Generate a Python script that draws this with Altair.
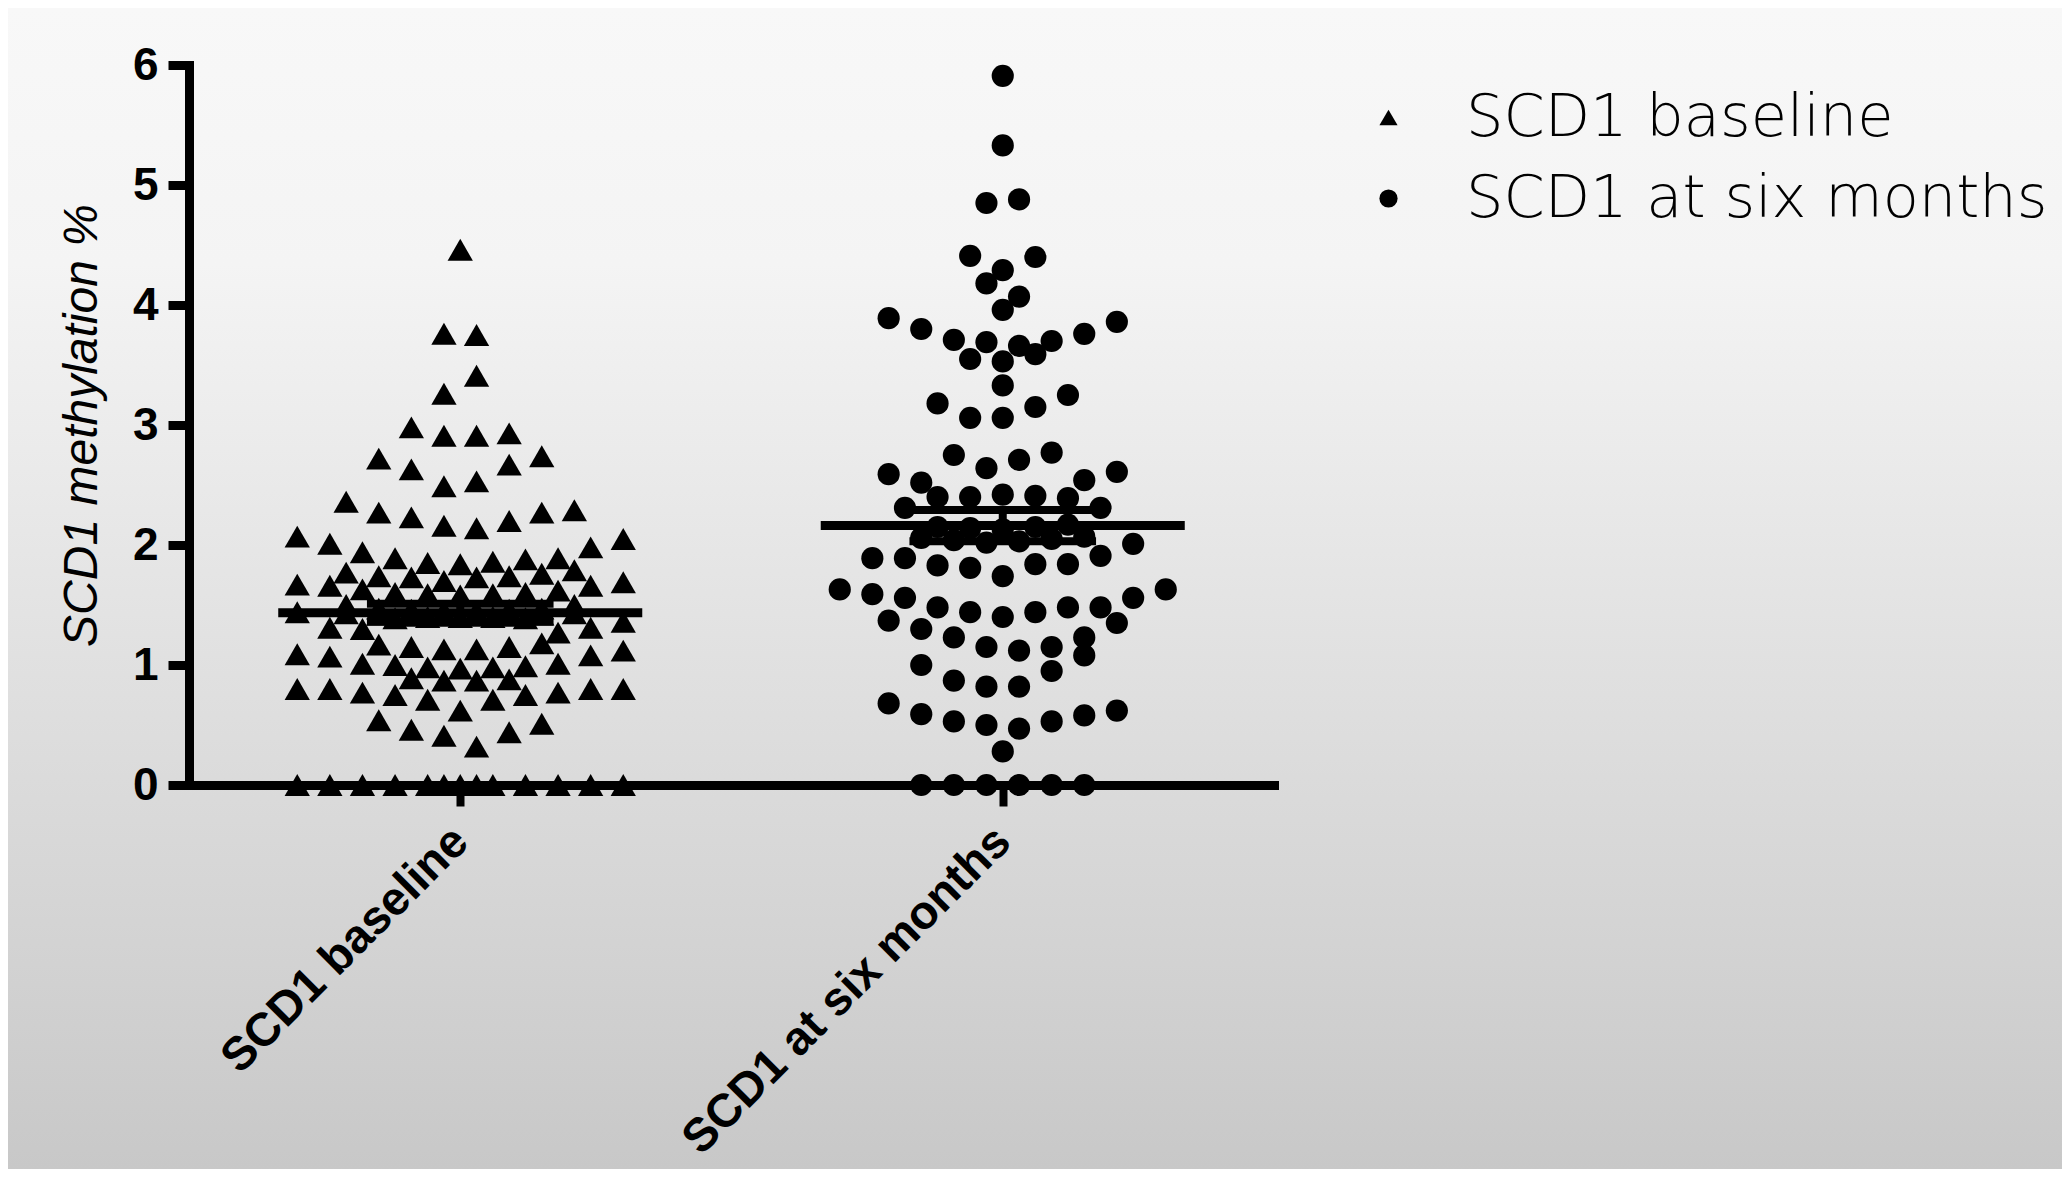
import altair as alt
import pandas as pd

# ---------------- data (one list per row of dots) -------------
groups = ["SCD1 baseline", "SCD1 at six months"]
shapes = ["triangle-up", "circle"]
y_ticks = [0, 1, 2, 3, 4, 5, 6]

baseline_rows = [
    [0, 0, 0, 0, 0, 0, 0, 0, 0, 0, 0, 0, 0],
    [0.54, 0.46, 0.41, 0.32, 0.44, 0.51],
    [0.80, 0.80, 0.77, 0.75, 0.71, 0.62, 0.71, 0.75, 0.77, 0.80, 0.80],
    [0.89, 0.87, 0.87, 0.88],
    [1.09, 1.07, 1.01, 1.00, 0.98, 0.97, 0.98, 0.99, 1.01, 1.08, 1.12],
    [1.17, 1.15, 1.13, 1.13, 1.15, 1.18],
    [1.44, 1.31, 1.30, 1.39, 1.40, 1.40, 1.40, 1.39, 1.27, 1.31, 1.36],
    [1.43, 1.42, 1.41, 1.41, 1.41, 1.41, 1.42, 1.43],
    [1.50, 1.47, 1.46, 1.45, 1.45, 1.46, 1.47, 1.50],
    [1.67, 1.66, 1.63, 1.60, 1.59, 1.58, 1.59, 1.60, 1.62, 1.66, 1.69],
    [1.77, 1.74, 1.73, 1.70, 1.73, 1.74, 1.76, 1.79],
    [2.07, 2.01, 1.94, 1.89, 1.85, 1.84, 1.86, 1.88, 1.89, 1.98, 2.05],
    [2.36, 2.27, 2.23, 2.16, 2.14, 2.20, 2.27, 2.29],
    [2.72, 2.63, 2.49, 2.53, 2.67, 2.74],
    [2.98, 2.91, 2.91, 2.93],
    [3.26, 3.41],
    [3.76, 3.75],
    [4.46],
]

six_month_rows = [
    [0, 0, 0, 0, 0, 0],
    [0.28],
    [0.68, 0.59, 0.53, 0.50, 0.47, 0.53, 0.58, 0.62],
    [1.00, 0.87, 0.82, 0.82, 0.95, 1.08],
    [1.37, 1.30, 1.23, 1.15, 1.12, 1.15, 1.23, 1.35],
    [1.63, 1.59, 1.56, 1.48, 1.44, 1.40, 1.44, 1.48, 1.48, 1.56, 1.63],
    [1.89, 1.89, 1.83, 1.81, 1.74, 1.84, 1.84, 1.91, 2.01],
    [2.06, 2.04, 2.02, 2.03, 2.05, 2.07],
    [2.15, 2.14, 2.13, 2.15, 2.17],
    [2.31, 2.40, 2.40, 2.42, 2.41, 2.39, 2.31],
    [2.59, 2.52, 2.75, 2.64, 2.71, 2.77, 2.54, 2.61],
    [3.18, 3.06, 3.06, 3.15, 3.25],
    [3.33],
    [3.55, 3.53, 3.59],
    [3.89, 3.80, 3.71, 3.69, 3.66, 3.70, 3.76, 3.86],
    [3.96],
    [4.18, 4.07],
    [4.41, 4.29, 4.40],
    [4.85, 4.88],
    [5.33],
    [5.91],
]

# ---------------- layout -------------------------------------------------------------------
W, H = 1085, 720            # plot area
PAD_L, PAD_T, PAD_R, PAD_B = 181, 57, 788, 384
X_DOMAIN = [-0.5, 1.5]
px_per_unit = W / (X_DOMAIN[1] - X_DOMAIN[0])
step = 32.6 / px_per_unit   # horizontal spacing of dots inside a row (scatter-dot spread)
MAX_COLS = 11


def spread(rows, gi, name):
    out = []
    for row in rows:
        n = len(row)
        if n <= MAX_COLS:
            offs = [i - (n - 1) / 2 for i in range(n)]
        else:
            m = n - MAX_COLS
            offs = [i - (MAX_COLS - 1) / 2 for i in range(MAX_COLS)] + \
                   [j - (m - 1) / 2 for j in range(m)]
        for v, o in zip(row, offs):
            out.append({"group": name, "gi": gi, "value": v, "xpos": gi + o * step})
    return out


records = spread(baseline_rows, 0, groups[0]) + spread(six_month_rows, 1, groups[1])
df = pd.DataFrame(records)

FONT = "Liberation Sans"
Y_TITLE = "SCD1 methylation %"

label_expr = "datum.value == 0 ? '%s' : '%s'" % (groups[0], groups[1])

x_axis = alt.Axis(
    values=[0, 1], labelExpr=label_expr, title=None, grid=False, zindex=2,
    labelAngle=-45, labelAlign="right", labelBaseline="middle", labelLimit=0,
    labelFont=FONT, labelFontSize=47, labelFontWeight="bold", labelColor="black",
    labelPadding=28, tickSize=21, tickWidth=8, tickColor="black",
    domainColor="black", domainWidth=9, domainCap="square",
)
y_axis = alt.Axis(
    values=y_ticks, title=Y_TITLE, grid=False, zindex=2,
    labelFont=FONT, labelFontSize=46, labelFontWeight="bold", labelColor="black",
    labelPadding=10, tickSize=21, tickWidth=9, tickColor="black",
    domainColor="black", domainWidth=9, domainCap="square",
    titleFont=FONT, titleFontSize=48, titleFontStyle="italic", titleFontWeight="normal",
    titleColor="black", titlePadding=26,
)

xs = alt.Scale(domain=X_DOMAIN, nice=False, zero=False)
ys = alt.Scale(domain=[0, 6], nice=False)

background = alt.Chart(pd.DataFrame({"a": [0]})).mark_rect(
    fill=alt.Gradient(
        gradient="linear",
        stops=[alt.GradientStop(color="#f8f8f8", offset=0),
               alt.GradientStop(color="#f4f4f4", offset=0.22),
               alt.GradientStop(color="#c8c8c8", offset=1)],
        x1=0, x2=0, y1=0, y2=1,
    ),
    strokeWidth=0,
).encode(
    x=alt.value(-PAD_L), x2=alt.value(W + PAD_R),
    y=alt.value(-PAD_T), y2=alt.value(H + PAD_B),
)

shape_enc = alt.Shape(
    "group:N",
    scale=alt.Scale(domain=groups, range=shapes),
    legend=alt.Legend(
        title=None, orient="none", legendX=1170, legendY=23,
        labelFont="DejaVu Sans", labelFontSize=59, labelColor="black",
        labelFontWeight=300, labelLimit=0,
        symbolSize=330, symbolFillColor="black", symbolStrokeColor="black",
        symbolStrokeWidth=0, symbolOpacity=1,
        labelOffset=48, rowPadding=21, padding=0,
    ),
)

tri = alt.Chart(df[df.gi == 0]).mark_point(filled=True, color="black", opacity=1, size=640).encode(
    x=alt.X("xpos:Q", scale=xs, axis=x_axis),
    y=alt.Y("value:Q", scale=ys, axis=y_axis, title=Y_TITLE),
    shape=shape_enc,
)
dots = alt.Chart(df[df.gi == 1]).mark_point(filled=True, color="black", opacity=1, size=491).encode(
    x=alt.X("xpos:Q", scale=xs, axis=x_axis),
    y=alt.Y("value:Q", scale=ys, axis=y_axis, title=Y_TITLE),
    shape=shape_enc,
)

stats = alt.Chart(df).transform_aggregate(
    mean="mean(value)", sem="stderr(value)", groupby=["gi"]
).transform_calculate(
    xl="datum.gi - 0.3355", xr="datum.gi + 0.3355",
    sl="datum.gi - 0.172", sr="datum.gi + 0.172",
    lo="datum.mean - datum.sem", hi="datum.mean + datum.sem",
)

mean_rule = stats.mark_rule(color="black", strokeWidth=9).encode(
    x=alt.X("xl:Q", scale=xs, axis=x_axis), x2="xr:Q",
    y=alt.Y("mean:Q", scale=ys, axis=y_axis, title=Y_TITLE),
)
sem_hi = stats.mark_rule(color="black", strokeWidth=8).encode(
    x=alt.X("sl:Q", scale=xs, axis=x_axis), x2="sr:Q",
    y=alt.Y("hi:Q", scale=ys, axis=y_axis, title=Y_TITLE),
)
sem_lo = stats.mark_rule(color="black", strokeWidth=8).encode(
    x=alt.X("sl:Q", scale=xs, axis=x_axis), x2="sr:Q",
    y=alt.Y("lo:Q", scale=ys, axis=y_axis, title=Y_TITLE),
)
sem_v = stats.mark_rule(color="black", strokeWidth=8).encode(
    x=alt.X("gi:Q", scale=xs, axis=x_axis),
    y=alt.Y("lo:Q", scale=ys, axis=y_axis, title=Y_TITLE), y2="hi:Q",
)

chart = alt.layer(background, tri, dots, sem_v, sem_hi, sem_lo, mean_rule).properties(
    width=W, height=H,
    autosize=alt.AutoSizeParams(type="none"),
    padding={"left": PAD_L, "top": PAD_T, "right": PAD_R, "bottom": PAD_B},
).configure_view(stroke=None).configure(background="#f8f8f8")

chart.save("out.html", embed_options={"renderer": "svg", "actions": False})
